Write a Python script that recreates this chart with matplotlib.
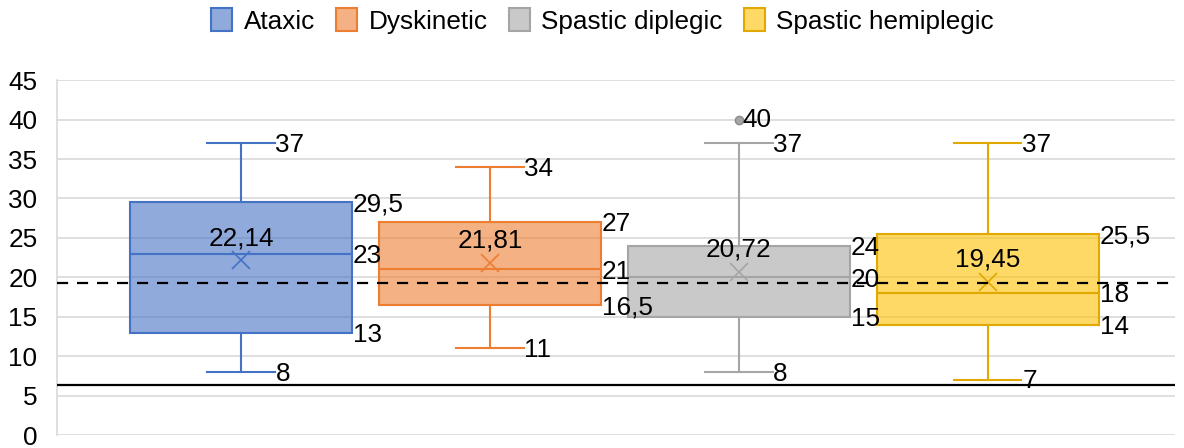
import matplotlib.pyplot as plt
from matplotlib.patches import Patch

plt.rcParams['font.family'] = ['Liberation Sans', 'DejaVu Sans']

# box plot data
groups = ['Ataxic', 'Dyskinetic', 'Spastic diplegic', 'Spastic hemiplegic']
mins = [8, 11, 8, 7]
q1s = [13, 16.5, 15, 14]
medians = [23, 21, 20, 18]
q3s = [29.5, 27, 24, 25.5]
maxs = [37, 34, 37, 37]
means = [22.14, 21.81, 20.72, 19.45]
outliers = [[], [], [40], []]
dashed_ref = 19.3
solid_ref = 6.35

edge_cols = ['#4472C4', '#ED7D31', '#A5A5A5', '#E0A800']
fill_cols = ['#4472C4', '#ED7D31', '#A5A5A5', '#FFC000']

def fmt(v):
    return ('%g' % v).replace('.', ',')

fig = plt.figure(figsize=(11.84, 4.48), dpi=100)
ax = fig.add_axes([0.048, 0.029, 0.944, 0.792])

stats = []
for i in range(len(groups)):
    stats.append(dict(med=medians[i], q1=q1s[i], q3=q3s[i], whislo=mins[i],
                      whishi=maxs[i], mean=means[i], fliers=outliers[i]))

pos = list(range(len(groups)))
bw = 0.89
cw = 0.27
for i in pos:
    ec = edge_cols[i]
    ax.bxp([stats[i]], positions=[i], widths=bw, capwidths=cw, patch_artist=True,
           showmeans=True, manage_ticks=False,
           boxprops=dict(facecolor=fill_cols[i] + '99', edgecolor=ec, linewidth=1.5),
           medianprops=dict(color=ec, linewidth=1.5),
           whiskerprops=dict(color=ec, linewidth=1.5),
           capprops=dict(color=ec, linewidth=1.5),
           meanprops=dict(marker='x', markeredgecolor=ec, markersize=13, markeredgewidth=1.2),
           flierprops=dict(marker='o', markerfacecolor='#A5A5A5', markeredgecolor='#8C8C8C',
                           markersize=6))

fs = 18.8
for i in pos:
    xr = i + bw / 2 + 0.005
    xc = i + cw / 2 + 0.003
    ax.text(xc, maxs[i] - 0.2, fmt(maxs[i]), fontsize=fs, va='center', ha='left', zorder=6)
    ax.text(xc, mins[i] - 0.2, fmt(mins[i]), fontsize=fs, va='center', ha='left', zorder=6)
    ax.text(xr, q3s[i] - 0.3, fmt(q3s[i]), fontsize=fs, va='center', ha='left', zorder=6)
    ax.text(xr, medians[i] - 0.3, fmt(medians[i]), fontsize=fs, va='center', ha='left', zorder=6)
    ax.text(xr, q1s[i] - 0.3, fmt(q1s[i]), fontsize=fs, va='center', ha='left', zorder=6)
    ax.annotate(fmt(means[i]), (i, means[i]), xytext=(0, 16), textcoords='offset points',
                fontsize=fs, ha='center', va='center', zorder=6)
    for o in outliers[i]:
        ax.text(i + 0.015, o, fmt(o), fontsize=fs, va='center', ha='left', zorder=6)

ax.axhline(dashed_ref, color='black', linestyle=(0, (5, 4)), linewidth=1.6, zorder=5)
ax.axhline(solid_ref, color='black', linewidth=1.6, zorder=5)

ax.set_ylim(0, 45)
ax.set_xlim(-0.74, 3.75)
ax.set_yticks(range(0, 46, 5))
ax.yaxis.grid(True, color='#D9D9D9', linewidth=1.2)
ax.set_axisbelow(True)
ax.set_xticks([])
ax.tick_params(axis='y', length=0, labelsize=fs, pad=14)
for s in ['top', 'right', 'bottom']:
    ax.spines[s].set_visible(False)
ax.spines['left'].set_color('#D9D9D9')
ax.spines['left'].set_linewidth(1.2)

handles = [Patch(facecolor=fill_cols[i] + '99', edgecolor=edge_cols[i], linewidth=1.5)
           for i in pos]
fig.legend(handles, groups, loc='center', bbox_to_anchor=(0.509, 0.953), ncol=4,
           frameon=False, fontsize=fs, handlelength=0.8, handleheight=0.95,
           handletextpad=0.45, columnspacing=0.8)

fig.savefig('out.png', dpi=100)
